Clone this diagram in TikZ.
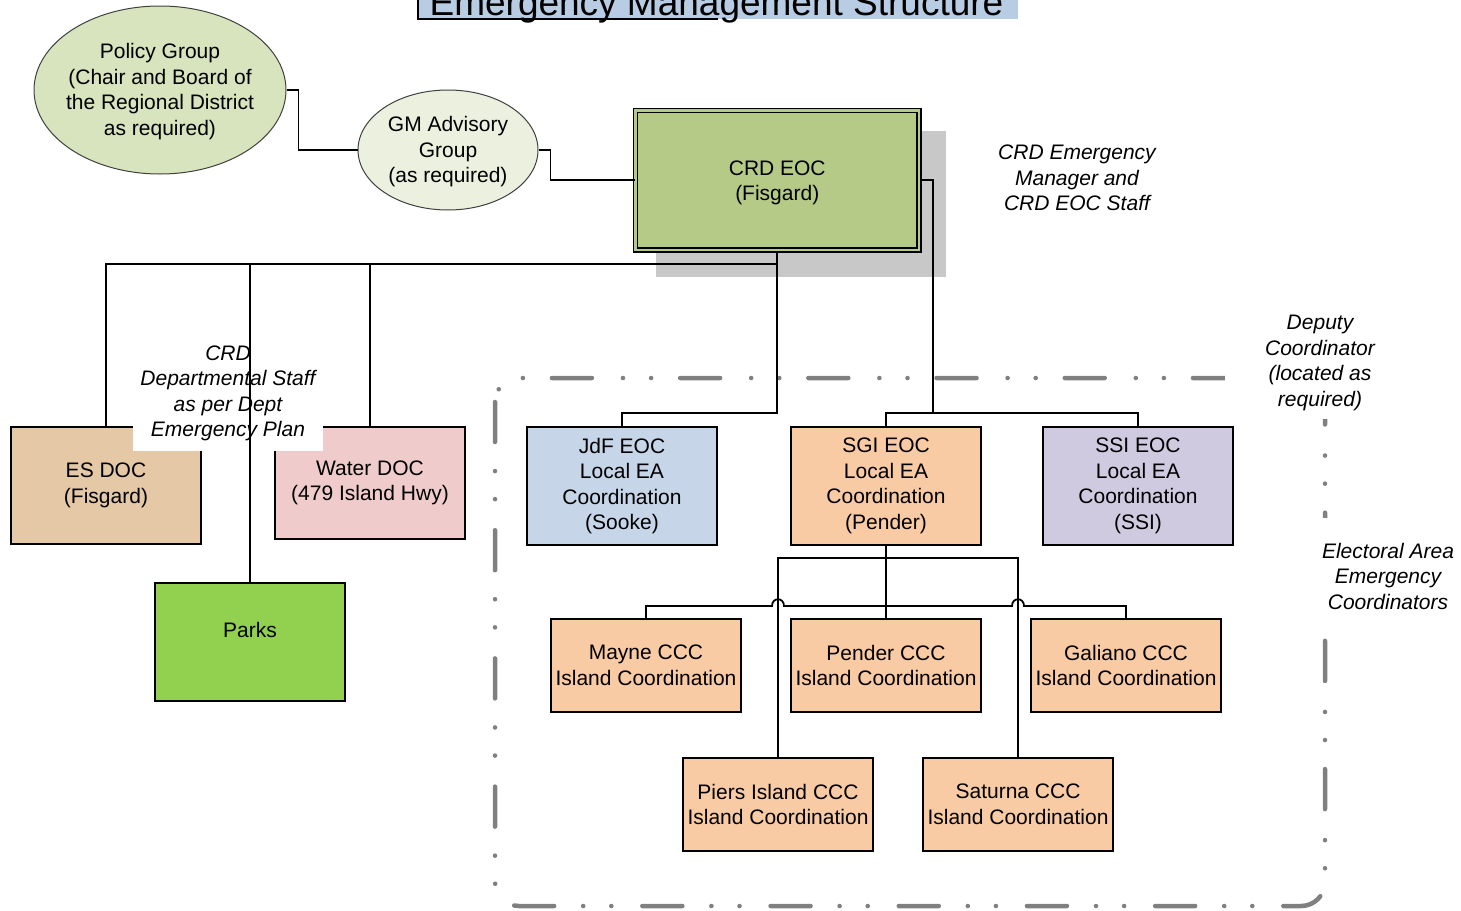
\documentclass[tikz,border=0pt]{standalone}
\usepackage{fontspec}
\setmainfont{Liberation Sans}
\usetikzlibrary{shapes.geometric}
\definecolor{pgfill}{HTML}{D7E4BD}
\definecolor{gmfill}{HTML}{EBF1DE}
\definecolor{eocfill}{HTML}{B6CA88}
\definecolor{shadowgray}{HTML}{C8C8C8}
\definecolor{esfill}{HTML}{E5C8A6}
\definecolor{waterfill}{HTML}{EFCBCB}
\definecolor{parksfill}{HTML}{92D050}
\definecolor{jdffill}{HTML}{C6D5E7}
\definecolor{peach}{HTML}{F9CBA5}
\definecolor{ssifill}{HTML}{D0CAE0}
\definecolor{titlefill}{HTML}{B8CCE4}
\definecolor{bordergray}{HTML}{808080}
\begin{document}
\begin{tikzpicture}[x=1pt,y=-1pt,
  txt/.style={font=\fontsize{21}{25.5}\selectfont, align=center, inner sep=0pt},
  note/.style={txt, font=\fontsize{21}{25.5}\selectfont\itshape},
  box/.style={txt, rectangle, draw=black, line width=1.8pt, minimum width=190pt},
  ell/.style={ellipse, draw=black!75, line width=1pt, inner sep=0pt},
  conn/.style={draw=black, line width=1.8pt},
  whitebox/.style={note, fill=white}]
\useasboundingbox (0,0) rectangle (1461,910);

% title
\fill[titlefill] (418,-30) rectangle (1018,19);
\draw[line width=2pt] (418,-5) -- (418,19) -- (718,19);
\node (title) [anchor=base, inner sep=0pt, font=\fontsize{37}{44}\selectfont] at (716.5,15) {Emergency Management Structure};

% shadow of CRD EOC
\fill[shadowgray] (656,131) rectangle (946,277);

% dash-dot border
\draw[bordergray, line width=4.5pt, line cap=round,
  dash pattern=on 40pt off 29pt on 0.1pt off 28pt on 0.1pt off 31pt,
  rounded corners=24pt] (495,378) rectangle (1325,906);

% ellipses
\node (pg) [ell, fill=pgfill, minimum width=252pt, minimum height=168pt] at (160,90) {};
\node (pgtxt) [txt] at (160,91.5) {Policy Group\\(Chair and Board of\\the Regional District\\as required)};
\node (gm) [ell, fill=gmfill, minimum width=180pt, minimum height=120pt] at (448,150) {};
\node (gmtxt) [txt] at (448,152) {GM Advisory\\Group\\(as required)};

% CRD EOC
\node (eoc) [rectangle, draw=black, line width=1.6pt, double=eocfill, double distance=2.6pt,
  fill=eocfill, minimum width=283.5pt, minimum height=139.5pt] at (777.25,180.25) {};
\node (eoctxt) [txt] at (777.25,183) {CRD EOC\\(Fisgard)};

% DOC boxes
\node (es) [box, fill=esfill, minimum height=117pt] at (106,485.5) {ES DOC\\(Fisgard)};
\node (water) [box, fill=waterfill, minimum height=112pt] at (370,483) {Water DOC\\(479 Island Hwy)};
\node (parks) [box, fill=parksfill, minimum height=118pt] at (250,642) {};
\node (parkstxt) [txt] at (250,630) {Parks};

% EOC boxes
\node (jdf) [box, fill=jdffill, minimum height=118pt] at (622,486) {JdF EOC\\Local EA\\Coordination\\(Sooke)};
\node (sgi) [box, fill=peach, minimum height=118pt] at (886,486) {SGI EOC\\Local EA\\Coordination\\(Pender)};
\node (ssi) [box, fill=ssifill, minimum height=118pt] at (1138,486) {SSI EOC\\Local EA\\Coordination\\(SSI)};

% CCC boxes
\node (mayne) [box, fill=peach, minimum height=93pt] at (646,665.5) {Mayne CCC\\Island Coordination};
\node (pender) [box, fill=peach, minimum height=93pt] at (886,665.5) {Pender CCC\\Island Coordination};
\node (galiano) [box, fill=peach, minimum height=93pt] at (1126,665.5) {Galiano CCC\\Island Coordination};
\node (piers) [box, fill=peach, minimum height=93pt] at (778,804.5) {Piers Island CCC\\Island Coordination};
\node (saturna) [box, fill=peach, minimum height=93pt] at (1018,804.5) {Saturna CCC\\Island Coordination};

% labels
\node (mgr) [note] at (1077,178) {CRD Emergency\\Manager and\\CRD EOC Staff};
\node (deputy) [whitebox, minimum width=190pt, minimum height=112pt] at (1320,363) {Deputy\\Coordinator\\(located as\\required)};
\node (elect) [whitebox, minimum width=146pt, minimum height=116pt] at (1388,576) {Electoral Area\\Emergency\\Coordinators};
\node (dept) [whitebox, minimum width=190pt, minimum height=115pt] at (228,393.5) {CRD\\Departmental Staff\\as per Dept\\Emergency Plan};

% connectors
\coordinate (jl) at (777.25,264);
\coordinate (jr) at (933,413);
\coordinate (jm) at (777.25,413);
\coordinate (sb) at (886,558);
\draw[conn] (pg.east) -- ++(12,0) |- (gm.west);
\draw[conn] (gm.east) -- ++(12,0) |- (eoc.west);
\draw[conn] (eoc.east) -| (jr);
\draw[conn] (sgi.north) |- (jr) -| (ssi.north);
\draw[conn] (eoc.south) -- (jl) -| (es.north);
\draw[conn] (jl) -| (water.north);
\draw[conn] (jl) -| (parks.north);
\draw[conn] (jl) -- (jm) -| (jdf.north);
\draw[conn] (sgi.south) -- (pender.north);
\draw[conn] (piers.north) |- (sb) -| (saturna.north);
\draw[conn] (mayne.north) |- (772,606)
  .. controls (772,597) and (784,597) .. (784,606) -- (1012,606)
  .. controls (1012,597) and (1024,597) .. (1024,606) -| (galiano.north);
\end{tikzpicture}
\end{document}
